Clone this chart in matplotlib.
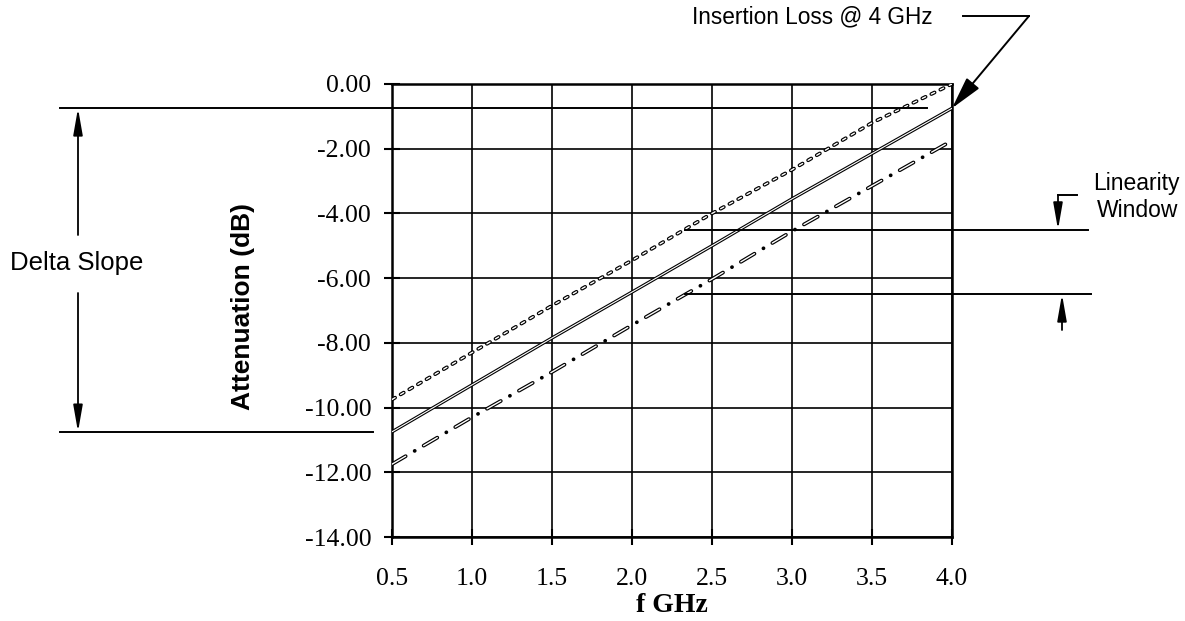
import matplotlib
matplotlib.use("Agg")
import matplotlib.pyplot as plt

plt.rcParams['lines.scale_dashes'] = False
plt.rcParams['font.family'] = ['Liberation Serif', 'DejaVu Serif']

# ---------------- data ----------------
freq_ghz = [0.5, 1.0, 1.5, 2.0, 2.5, 3.0, 3.5, 4.0]
atten_upper = [-9.75, -8.30, -6.85, -5.45, -4.00, -2.65, -1.20, 0.00]
atten_nominal = [-10.75, -9.30, -7.85, -6.43, -5.00, -3.55, -2.15, -0.75]
atten_lower = [-11.75, -10.30, -8.90, -7.45, -6.03, -4.55, -3.15, -1.75]

x_ticks = [0.5, 1.0, 1.5, 2.0, 2.5, 3.0, 3.5, 4.0]
x_tick_labels = ["0.5", "1.0", "1.5", "2.0", "2.5", "3.0", "3.5", "4.0"]
y_ticks = [0, -2, -4, -6, -8, -10, -12, -14]
y_tick_labels = ["0.00", "-2.00", "-4.00", "-6.00", "-8.00", "-10.00", "-12.00", "-14.00"]

il_4ghz = -0.75          # insertion loss @ 4 GHz (nominal)
il_low_start = -10.75    # nominal at 0.5 GHz
window_top = -4.5
window_bottom = -6.5

# ---------------- figure ----------------
W, H = 1185, 621
fig = plt.figure(figsize=(W / 100, H / 100), dpi=100)
L, R, T, B = 392, 952, 84, 537
ax = fig.add_axes([L / W, 1 - B / H, (R - L) / W, (B - T) / H])
ax.set_xlim(0.5, 4.0)
ax.set_ylim(-14, 0)


def X(px):
    return 0.5 + (px - L) / (R - L) * 3.5


def Y(py):
    return -(py - T) / (B - T) * 14.0


ax.set_xticks(x_ticks)
ax.set_xticklabels(x_tick_labels)
ax.set_yticks(y_ticks)
ax.set_yticklabels(y_tick_labels)
ax.grid(True, color='black', lw=1.2)
for s in ax.spines.values():
    s.set_linewidth(1.8)
ax.tick_params(direction='inout', length=12, width=1.5, labelsize=18.5, colors='black')
ax.tick_params(axis='y', pad=9)
ax.tick_params(axis='x', pad=16)

# upper curve: outlined short dashes
ax.plot(freq_ghz, atten_upper, color='black', lw=2.7, ls=(0, (2.6, 4.6)),
        dash_capstyle='round', zorder=3)
ax.plot(freq_ghz, atten_upper, color='white', lw=1.0, ls=(0, (2.6, 4.6)),
        dash_capstyle='round', zorder=4)
# nominal: double solid line
ax.plot(freq_ghz, atten_nominal, color='black', lw=2.4, zorder=3, solid_capstyle='butt')
ax.plot(freq_ghz, atten_nominal, color='white', lw=0.8, zorder=4, solid_capstyle='butt')
# lower: outlined dash + dot
ax.plot(freq_ghz, atten_lower, color='black', lw=2.7, ls=(0, (11.4, 7.5, 0.1, 7.4)),
        dash_capstyle='round', zorder=3)
ax.plot(freq_ghz, atten_lower, color='white', lw=1.0, ls=(0, (11.4, 15.0)),
        dash_capstyle='round', zorder=4)

# ---------------- annotations ----------------
kw = dict(color='black', lw=1.4, clip_on=False, zorder=5)
# Delta slope reference lines
ax.plot([X(60), X(927)], [il_4ghz, il_4ghz], **kw)
ax.plot([X(60), X(373)], [il_low_start, il_low_start], **kw)


def arrow(xy, xytext, hl=1.6, hw=0.28, lw=1.3):
    ax.annotate("", xy=xy, xytext=xytext, xycoords='data', textcoords='data',
                annotation_clip=False,
                arrowprops=dict(arrowstyle=f'-|>,head_length={hl},head_width={hw}',
                                color='black', lw=lw, shrinkA=0, shrinkB=0,
                                mutation_scale=10))


arrow((X(78), il_4ghz), (X(78), Y(235)))
arrow((X(78), il_low_start), (X(78), Y(293)))
fig.text(77 / W, 1 - 263 / H, "Delta Slope", ha='center', va='center',
         fontsize=18.5, family='Liberation Sans')

# Insertion loss
fig.text(812 / W, 1 - 23 / H, "Insertion Loss @ 4 GHz", ha='center', va='baseline',
         fontsize=16.3, family='Liberation Sans')
ax.plot([X(963), X(1029)], [Y(16), Y(16)], **kw)
arrow((4.0, il_4ghz), (X(1029), Y(16)), hl=2.0, hw=0.5, lw=1.4)

# Linearity window
ax.plot([X(685), X(1088)], [window_top, window_top], **kw)
ax.plot([X(685), X(1091)], [window_bottom, window_bottom], **kw)
ax.plot([X(1058), X(1077)], [Y(195), Y(195)], **kw)
arrow((X(1058), window_top), (X(1058), Y(195)))
arrow((X(1062), window_bottom), (X(1062), Y(330)))
fig.text(1180 / W, 1 - 190 / H, "Linearity", ha='right', va='baseline',
         fontsize=16.5, family='Liberation Sans')
fig.text(1178 / W, 1 - 217 / H, "Window", ha='right', va='baseline',
         fontsize=16.5, family='Liberation Sans')

# axis labels
fig.text(243 / W, 1 - 307 / H, "Attenuation (dB)", rotation=90, ha='center', va='center',
         fontsize=19, fontweight='bold', family='Liberation Sans')
fig.text(672 / W, 1 - 605 / H, "f GHz", ha='center', va='center',
         fontsize=20, fontweight='bold', family='Liberation Serif')

fig.savefig("out.png", dpi=100)
